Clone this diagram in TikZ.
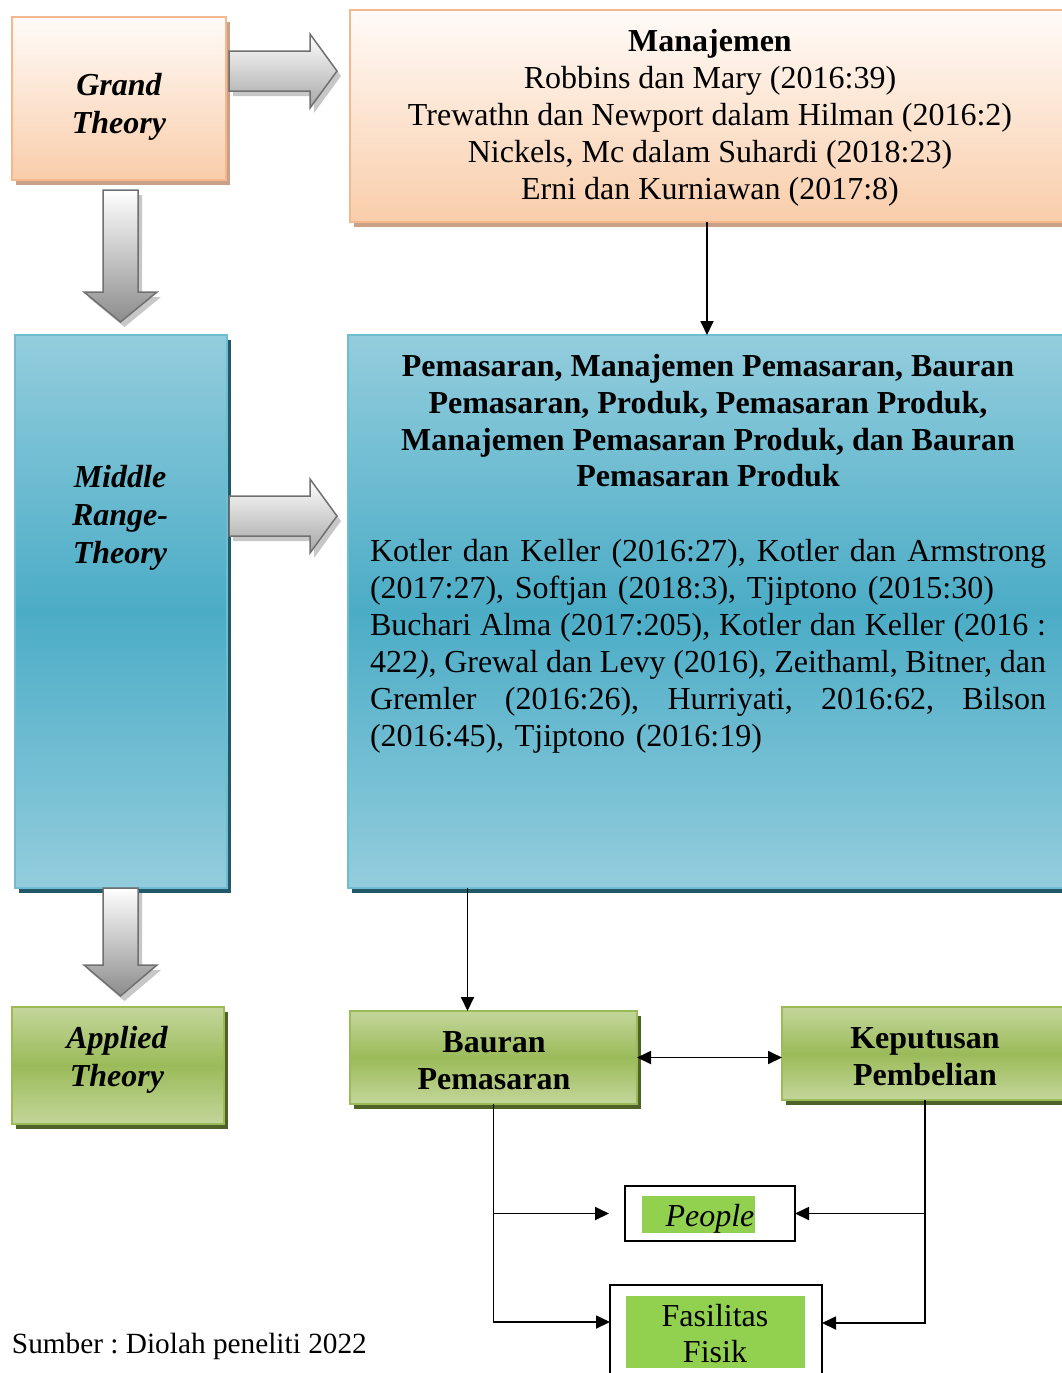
\documentclass[tikz,border=0pt]{standalone}
\usepackage{fontspec}
\setmainfont{Liberation Serif}
\frenchspacing
\usetikzlibrary{shadows,arrows.meta,calc}
\definecolor{orB}{HTML}{F5B88E}
\definecolor{orT}{HTML}{FFFBF8}
\definecolor{orM}{HTML}{F9CDAA}
\definecolor{orS}{HTML}{C9A088}
\definecolor{blL}{HTML}{93CDDD}
\definecolor{blD}{HTML}{4BACC6}
\definecolor{blS}{HTML}{215968}
\definecolor{grL}{HTML}{C3D69B}
\definecolor{grD}{HTML}{9BBB59}
\definecolor{grS}{HTML}{4F6228}
\definecolor{grP}{HTML}{92D050}
\definecolor{arB}{HTML}{707070}
\newcommand\myRarrow[2]{%
  \path[draw=arB, line width=1.5pt, top color=white, bottom color=black!35,
    drop shadow={shadow xshift=4pt, shadow yshift=-5pt, fill=black!22, opacity=1}]
    (#1,#2-20) -- (310,#2-20) -- (310,#2-37) -- (337,#2) -- (310,#2+37) -- (310,#2+20) -- (#1,#2+20) -- cycle;}
\newcommand\myDarrow[3]{%
  \path[draw=arB, line width=1.5pt, top color=white, bottom color=black!45,
    drop shadow={shadow xshift=4pt, shadow yshift=-5pt, fill=black!22, opacity=1}]
    (103,#1) -- (138,#1) -- (138,#2) -- (157,#2) -- (120.5,#3) -- (84,#2) -- (103,#2) -- cycle;}
\newcommand\jline[1]{\noindent\hbox to 676pt{\spaceskip=0.25em plus 1.5em minus 0.15em\relax #1}}
\newcommand\rline[1]{\noindent\hbox to 676pt{#1\hfil}}
\begin{document}
\frenchspacing
\begin{tikzpicture}[x=1pt,y=-1pt,
  every node/.style={inner sep=0pt, outer sep=0pt},
  txt/.style={font=\fontsize{32}{37}\selectfont, align=center},
  ttl/.style={font=\fontsize{32}{38}\selectfont\bfseries\itshape, align=center},
  orbox/.style={draw=orB, line width=1.5pt, top color=orT, bottom color=orM,
    drop shadow={shadow xshift=4pt, shadow yshift=-5pt, fill=orS, opacity=1}},
  blbox/.style={draw=blD!80, line width=1.5pt, top color=blL, bottom color=blL, middle color=blD,
    drop shadow={shadow xshift=4pt, shadow yshift=-5pt, fill=blS, opacity=1}},
  grbox/.style={draw=grD, line width=1.5pt, top color=grL, bottom color=grL, middle color=grD,
    drop shadow={shadow xshift=4pt, shadow yshift=-5pt, fill=grS, opacity=1}},
  wbox/.style={draw=black, line width=2pt, fill=white},
  arr/.style={line width=1.8pt, -{Triangle[length=14pt,width=13pt]}},
  darr/.style={line width=1.8pt, {Triangle[length=14pt,width=13pt]}-{Triangle[length=14pt,width=13pt]}}
]
\useasboundingbox (0,0) rectangle (1062,1373);
\clip (0,0) rectangle (1062,1373);

% left column
\node[orbox, minimum width=214pt, minimum height=163pt, anchor=north west] (grand) at (12,17) {};
\node[ttl] (grandT) at (119,107) {Grand\\Theory};
\node[blbox, minimum width=212pt, minimum height=553pt, anchor=north west] (middle) at (15,335) {};
\node[ttl] (middleT) at (120,518) {Middle\\Range-\\Theory};
\node[grbox, minimum width=212pt, minimum height=117pt, anchor=north west] (applied) at (12,1007) {};
\node[ttl] (appliedT) at (117,1060) {Applied\\Theory};

% block arrows
\myRarrow{229}{71}
\myRarrow{229}{516}
\myDarrow{190}{292}{322}
\myDarrow{888}{965}{996}

% right column
\node[orbox, minimum width=714pt, minimum height=212pt, anchor=north west] (manaj) at (350,10) {};
\node[txt] (manajT) at (710,118) {\textbf{Manajemen}\\Robbins dan Mary (2016:39)\\Trewathn dan Newport dalam Hilman (2016:2)\\Nickels, Mc dalam Suhardi (2018:23)\\Erni dan Kurniawan (2017:8)};

\node[blbox, minimum width=718pt, minimum height=553pt, anchor=north west] (blue) at (348,335) {};
\node[txt, font=\fontsize{32}{36.7}\selectfont\bfseries] (blueH) at (708,421) {Pemasaran, Manajemen Pemasaran, Bauran\\Pemasaran, Produk, Pemasaran Produk,\\Manajemen Pemasaran Produk, dan Bauran\\Pemasaran Produk};
\node[font=\fontsize{32}{37}\selectfont, text width=676pt, align=left] (blueR) at (708,646) {%
\jline{Kotler dan Keller (2016:27), Kotler dan Armstrong}\\
\rline{(2017:27), Softjan (2018:3), Tjiptono (2015:30)}\\
\jline{Buchari Alma (2017:205), Kotler dan Keller (2016 :}\\
\jline{422\textit{)}, Grewal dan Levy (2016), Zeithaml, Bitner, dan}\\
\jline{Gremler (2016:26), Hurriyati, 2016:62, Bilson}\\
\rline{(2016:45), Tjiptono (2016:19)}};

\node[grbox, minimum width=287pt, minimum height=93pt, anchor=north west] (bauran) at (350,1011) {};
\node[txt, font=\fontsize{32}{37}\selectfont\bfseries] (bauranT) at (494,1061) {Bauran\\Pemasaran};
\node[grbox, minimum width=286pt, minimum height=93pt, anchor=north west] (kep) at (782,1007) {};
\node[txt, font=\fontsize{32}{37}\selectfont\bfseries] (kepT) at (925,1057) {Keputusan\\Pembelian};

\node[wbox, minimum width=170pt, minimum height=55pt, anchor=north west] (people) at (625,1186) {};
\node[fill=grP, minimum width=113pt, minimum height=37pt, anchor=north west] (peopleG) at (642,1196) {};
\node[font=\fontsize{32}{37}\selectfont\itshape] (peopleT) at (710,1219) {People};

\node[wbox, minimum width=212pt, minimum height=110pt, anchor=north west] (fas) at (610,1285) {};
\node[fill=grP, minimum width=179pt, minimum height=72pt, anchor=north west] (fasG) at (626,1296) {};
\node[txt, font=\fontsize{32}{36}\selectfont] (fasT) at (715,1334) {Fasilitas\\Fisik};

\node[anchor=west, font=\fontsize{29.3}{34}\selectfont] (src) at (12,1346) {Sumber : Diolah peneliti 2022};

% connectors
\coordinate (fasW) at ([yshift=-37pt]fas.north west);
\coordinate (fasE) at ([yshift=-38pt]fas.north east);
\coordinate (bTop) at ([xshift=-26pt]bauran.north);
\draw[arr] (manaj.south) -- (blue.north);
\draw[arr] (blue.south -| bTop) -- (bTop);
\draw[darr] (bauran.east) -- (bauran.east -| kep.west);
\draw[arr] (bauran.south) -- (bauran.south |- fasW) -- (fasW);
\draw[arr] (bauran.south |- people.west) -- ([xshift=-16pt]people.west);
\draw[arr] (kep.south) -- (kep.south |- fasE) -- (fasE);
\draw[arr] (kep.south |- people.east) -- (people.east);
\end{tikzpicture}
\end{document}
